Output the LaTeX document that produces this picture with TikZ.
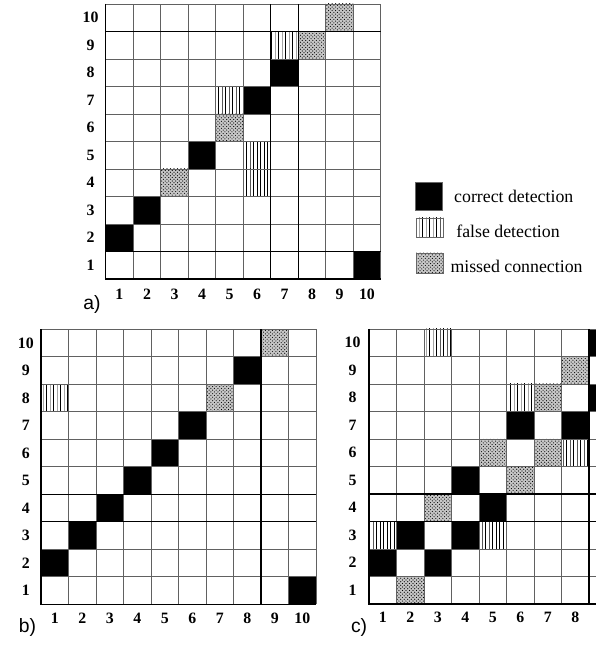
\documentclass[tikz,border=0pt]{standalone}
\usepackage{fontspec}
\setmainfont{Liberation Serif}
\newfontfamily\tagfont{Liberation Sans}
\usetikzlibrary{patterns,positioning}
\tikzset{
  gridline/.style={draw=black!62, line width=0.6pt},
  strongline/.style={draw=black, line width=0.9pt},
  correct/.style={fill=black},
  falsedet/.style={pattern=vertical lines, pattern color=black},
  missed/.style={preaction={fill=black!22}, pattern=crosshatch dots, pattern color=black},
  idxlabel/.style={font=\fontsize{13.5}{14}\selectfont\bfseries, inner sep=0pt},
  tag/.style={font=\fontsize{16.5}{18}\selectfont\tagfont, inner sep=0pt},
  legbox/.style={draw=black!60, minimum width=0.81cm, inner sep=0pt},
  legtext/.style={font=\fontsize{15.2}{17}\selectfont, anchor=west, inner sep=0pt}
}

\begin{document}
\begin{tikzpicture}[x=0.03cm,y=0.03cm]
\useasboundingbox (0,0) rectangle (596,645);
\clip (0,0) rectangle (596,645);

% a) detection matrix
\begin{scope}[shift={(105.7,366)},x=0.825cm,y=0.825cm]
  \foreach \c/\r in {1/2,2/3,4/5,6/7,7/8,10/1}
    \fill[correct] (\c-1,\r-1) rectangle ++(1,1);
  \foreach \c/\r in {7/9,5/7,6/5,6/4}
    \fill[falsedet] (\c-1,\r-1) rectangle ++(1,1);
  \foreach \c/\r in {9/10,8/9,5/6,3/4}
    \fill[missed] (\c-1,\r-1) rectangle ++(1,1);
  \foreach \k in {0,...,10}
    \draw[gridline] (\k,0) -- (\k,10) (0,\k) -- (10,\k);
  \draw[strongline] (0,10) -- (0,0) -- (10,0);
  \draw[strongline] (6,0) -- (6,10) (7,0) -- (7,10) (0,9) -- (10,9) (0,1) -- (10,1);
  \foreach \i in {1,...,10} {
    \node[idxlabel] (a-r\i) at (-0.55,\i-0.5) {\i};
    \node[idxlabel] (a-c\i) at (\i-0.5,-0.55) {\i};
  }
  \node[tag] (a-tag) at (-0.5,-0.91) {a)};
\end{scope}

% b) detection matrix
\begin{scope}[shift={(41,40.7)},x=0.825cm,y=0.825cm]
  \foreach \c/\r in {8/9,6/7,5/6,4/5,3/4,2/3,1/2,10/1}
    \fill[correct] (\c-1,\r-1) rectangle ++(1,1);
  \foreach \c/\r in {1/8}
    \fill[falsedet] (\c-1,\r-1) rectangle ++(1,1);
  \foreach \c/\r in {9/10,7/8}
    \fill[missed] (\c-1,\r-1) rectangle ++(1,1);
  \foreach \k in {0,...,10}
    \draw[gridline] (\k,0) -- (\k,10) (0,\k) -- (10,\k);
  \draw[strongline] (0,10) -- (0,0) -- (10,0);
  \draw[strongline] (8,0) -- (8,10) (0,4) -- (10,4) (0,3) -- (10,3);
  \foreach \i in {1,...,10} {
    \node[idxlabel] (b-r\i) at (-0.55,\i-0.5) {\i};
    \node[idxlabel] (b-c\i) at (\i-0.5,-0.5) {\i};
  }
  \node[tag] (b-tag) at (-0.49,-0.83) {b)};
\end{scope}

% c) detection matrix (cut at the right edge)
\begin{scope}[shift={(369,41)},x=0.825cm,y=0.825cm]
  \foreach \c/\r in {9/10,9/8,6/7,8/7,4/5,5/4,2/3,4/3,1/2,3/2}
    \fill[correct] (\c-1,\r-1) rectangle ++(1,1);
  \foreach \c/\r in {3/10,6/8,8/6,1/3,5/3}
    \fill[falsedet] (\c-1,\r-1) rectangle ++(1,1);
  \foreach \c/\r in {8/9,7/8,5/6,7/6,6/5,3/4,2/1}
    \fill[missed] (\c-1,\r-1) rectangle ++(1,1);
  \foreach \k in {0,...,10}
    \draw[gridline] (\k,0) -- (\k,10) (0,\k) -- (10,\k);
  \draw[strongline] (0,10) -- (0,0) -- (10,0);
  \draw[strongline] (8,0) -- (8,10) (0,4) -- (10,4) (0,3) -- (10,3);
  \foreach \i in {1,...,10}
    \node[idxlabel] (c-r\i) at (-0.6,\i-0.5) {\i};
  \foreach \i in {1,...,8}
    \node[idxlabel] (c-c\i) at (\i-0.5,-0.5) {\i};
  \node[tag] (c-tag) at (-0.36,-0.87) {c)};
\end{scope}

% legend
\node[legbox, correct, minimum height=0.84cm] (lcorrect) at (428.5,449) {};
\node[legbox, falsedet, minimum height=0.57cm] (lfalse) at (429.5,417.5) {};
\node[legbox, missed, minimum height=0.6cm] (lmissed) at (429.5,382) {};
\node[legtext, right=10pt of lcorrect] (tcorrect) {correct detection};
\node[legtext, right=11pt of lfalse, yshift=-3pt] (tfalse) {false detection};
\node[legtext, right=6pt of lmissed, yshift=-3pt] (tmissed) {missed connection};
\end{tikzpicture}
\end{document}
